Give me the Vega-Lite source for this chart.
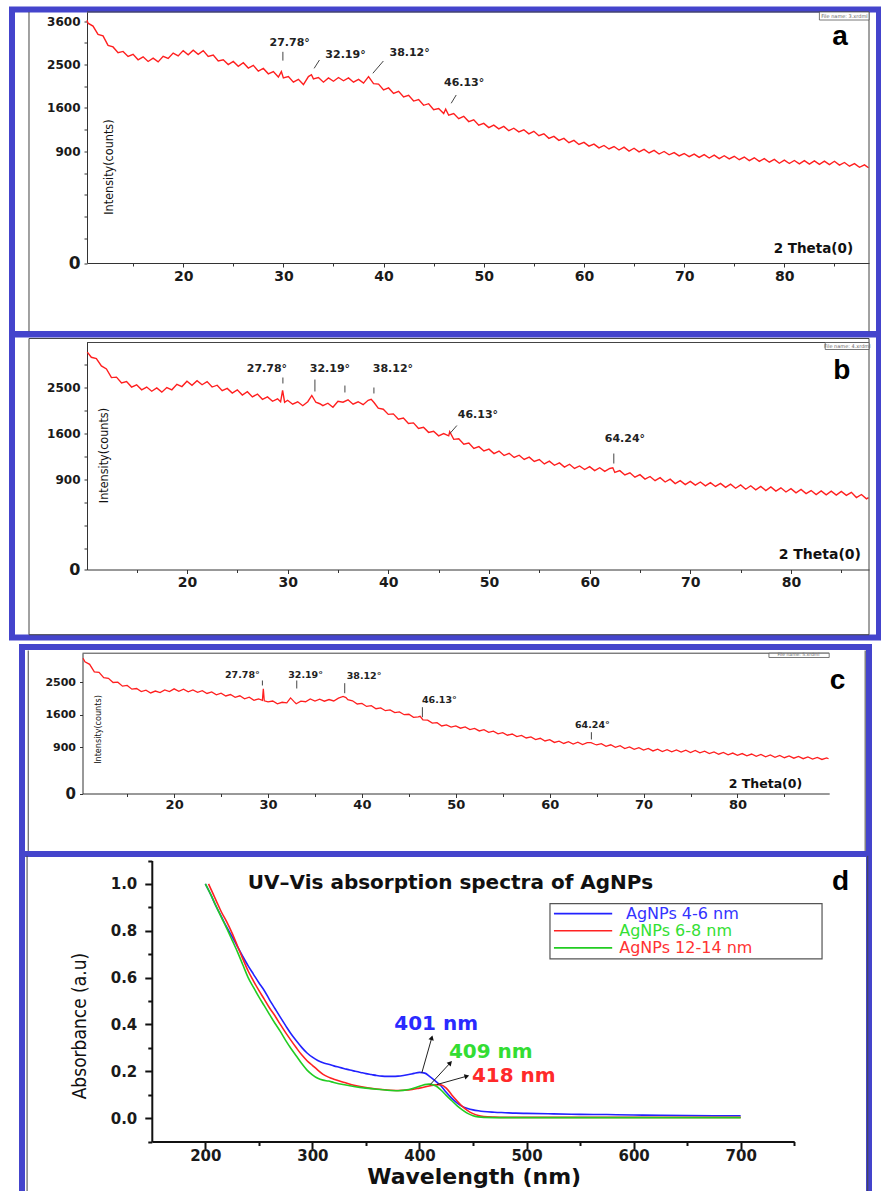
{
"$schema": "https://vega.github.io/schema/vega-lite/v6.json",
"background": "white",
"padding": {"left": 9, "top": 6.5, "right": 0, "bottom": 0},
"config": {
 "view": {"stroke": "#4444cc", "strokeWidth": 6},
 "axis": {"grid": false, "labelFont": "DejaVu Sans", "labelFontWeight": "bold", "labelColor": "#1a1a1a", "domainColor": "#333", "tickColor": "#333", "labelOverlap": false, "labelFlush": false, "labelBound": false, "tickCount": 100}
},
"datasets": {
"xrd_a": [{"theta":10.4,"counts":3620},{"theta":10.5,"counts":3540},{"theta":11,"counts":3460},{"theta":11.5,"counts":3240},{"theta":12,"counts":3200},{"theta":12.5,"counts":2960},{"theta":13,"counts":2920},{"theta":13.5,"counts":2780},{"theta":14,"counts":2810},{"theta":14.5,"counts":2690},{"theta":15,"counts":2740},{"theta":15.5,"counts":2610},{"theta":16,"counts":2680},{"theta":16.5,"counts":2570},{"theta":17,"counts":2650},{"theta":17.5,"counts":2560},{"theta":18,"counts":2690},{"theta":18.5,"counts":2640},{"theta":19,"counts":2770},{"theta":19.5,"counts":2700},{"theta":20,"counts":2830},{"theta":20.5,"counts":2730},{"theta":21,"counts":2840},{"theta":21.5,"counts":2740},{"theta":22,"counts":2830},{"theta":22.5,"counts":2690},{"theta":23,"counts":2720},{"theta":23.5,"counts":2580},{"theta":24,"counts":2610},{"theta":24.5,"counts":2500},{"theta":25,"counts":2570},{"theta":25.5,"counts":2460},{"theta":26,"counts":2540},{"theta":26.5,"counts":2420},{"theta":27,"counts":2480},{"theta":27.5,"counts":2350},{"theta":28,"counts":2410},{"theta":28.5,"counts":2290},{"theta":29,"counts":2340},{"theta":29.5,"counts":2220},{"theta":29.8,"counts":2340},{"theta":30,"counts":2200},{"theta":30.5,"counts":2230},{"theta":31,"counts":2110},{"theta":31.5,"counts":2170},{"theta":32,"counts":2060},{"theta":32.5,"counts":2230},{"theta":32.8,"counts":2270},{"theta":33,"counts":2180},{"theta":33.5,"counts":2210},{"theta":34,"counts":2110},{"theta":34.5,"counts":2200},{"theta":35,"counts":2130},{"theta":35.5,"counts":2210},{"theta":36,"counts":2140},{"theta":36.5,"counts":2200},{"theta":37,"counts":2110},{"theta":37.5,"counts":2170},{"theta":38,"counts":2090},{"theta":38.5,"counts":2230},{"theta":39,"counts":2080},{"theta":39.5,"counts":2070},{"theta":40,"counts":1950},{"theta":40.5,"counts":1990},{"theta":41,"counts":1880},{"theta":41.5,"counts":1920},{"theta":42,"counts":1810},{"theta":42.5,"counts":1840},{"theta":43,"counts":1730},{"theta":43.5,"counts":1760},{"theta":44,"counts":1650},{"theta":44.5,"counts":1680},{"theta":45,"counts":1570},{"theta":45.5,"counts":1590},{"theta":46,"counts":1500},{"theta":46.2,"counts":1580},{"theta":46.5,"counts":1470},{"theta":47,"counts":1500},{"theta":47.5,"counts":1410},{"theta":48,"counts":1450},{"theta":48.5,"counts":1360},{"theta":49,"counts":1390},{"theta":49.5,"counts":1300},{"theta":50,"counts":1330},{"theta":50.5,"counts":1260},{"theta":51,"counts":1300},{"theta":51.5,"counts":1240},{"theta":52,"counts":1280},{"theta":52.5,"counts":1210},{"theta":53,"counts":1250},{"theta":53.5,"counts":1190},{"theta":54,"counts":1225},{"theta":54.5,"counts":1160},{"theta":55,"counts":1200},{"theta":55.5,"counts":1130},{"theta":56,"counts":1160},{"theta":56.5,"counts":1090},{"theta":57,"counts":1120},{"theta":57.5,"counts":1060},{"theta":58,"counts":1090},{"theta":58.5,"counts":1025},{"theta":59,"counts":1060},{"theta":59.5,"counts":1000},{"theta":60,"counts":1030},{"theta":60.5,"counts":975},{"theta":61,"counts":1005},{"theta":61.5,"counts":950},{"theta":62,"counts":985},{"theta":62.5,"counts":935},{"theta":63,"counts":970},{"theta":63.5,"counts":920},{"theta":64,"counts":960},{"theta":64.5,"counts":905},{"theta":65,"counts":945},{"theta":65.5,"counts":895},{"theta":66,"counts":930},{"theta":66.5,"counts":880},{"theta":67,"counts":915},{"theta":67.5,"counts":865},{"theta":68,"counts":900},{"theta":68.5,"counts":855},{"theta":69,"counts":885},{"theta":69.5,"counts":840},{"theta":70,"counts":872},{"theta":70.5,"counts":830},{"theta":71,"counts":865},{"theta":71.5,"counts":820},{"theta":72,"counts":858},{"theta":72.5,"counts":812},{"theta":73,"counts":850},{"theta":73.5,"counts":805},{"theta":74,"counts":842},{"theta":74.5,"counts":800},{"theta":75,"counts":835},{"theta":75.5,"counts":790},{"theta":76,"counts":825},{"theta":76.5,"counts":778},{"theta":77,"counts":815},{"theta":77.5,"counts":768},{"theta":78,"counts":805},{"theta":78.5,"counts":758},{"theta":79,"counts":795},{"theta":79.5,"counts":745},{"theta":80,"counts":785},{"theta":80.5,"counts":742},{"theta":81,"counts":780},{"theta":81.5,"counts":738},{"theta":82,"counts":778},{"theta":82.5,"counts":735},{"theta":83,"counts":775},{"theta":83.5,"counts":732},{"theta":84,"counts":772},{"theta":84.5,"counts":728},{"theta":85,"counts":770},{"theta":85.5,"counts":722},{"theta":86,"counts":755},{"theta":86.5,"counts":708},{"theta":87,"counts":740},{"theta":87.5,"counts":695},{"theta":88,"counts":725},{"theta":88.4,"counts":690}],
"xrd_b": [{"theta":10.1,"counts":3330},{"theta":10.5,"counts":3200},{"theta":11,"counts":3170},{"theta":11.5,"counts":2990},{"theta":12,"counts":2920},{"theta":12.5,"counts":2720},{"theta":13,"counts":2730},{"theta":13.5,"counts":2600},{"theta":14,"counts":2630},{"theta":14.5,"counts":2510},{"theta":15,"counts":2560},{"theta":15.5,"counts":2450},{"theta":16,"counts":2510},{"theta":16.5,"counts":2420},{"theta":17,"counts":2490},{"theta":17.5,"counts":2400},{"theta":18,"counts":2500},{"theta":18.5,"counts":2450},{"theta":19,"counts":2570},{"theta":19.5,"counts":2520},{"theta":20,"counts":2640},{"theta":20.5,"counts":2550},{"theta":21,"counts":2650},{"theta":21.5,"counts":2560},{"theta":22,"counts":2630},{"theta":22.5,"counts":2510},{"theta":23,"counts":2550},{"theta":23.5,"counts":2430},{"theta":24,"counts":2480},{"theta":24.5,"counts":2380},{"theta":25,"counts":2450},{"theta":25.5,"counts":2340},{"theta":26,"counts":2410},{"theta":26.5,"counts":2300},{"theta":27,"counts":2360},{"theta":27.5,"counts":2250},{"theta":28,"counts":2300},{"theta":28.5,"counts":2210},{"theta":29,"counts":2260},{"theta":29.3,"counts":2200},{"theta":29.5,"counts":2440},{"theta":29.7,"counts":2190},{"theta":30,"counts":2230},{"theta":30.5,"counts":2150},{"theta":31,"counts":2200},{"theta":31.5,"counts":2120},{"theta":32,"counts":2200},{"theta":32.4,"counts":2330},{"theta":32.8,"counts":2190},{"theta":33.2,"counts":2160},{"theta":33.5,"counts":2120},{"theta":34,"counts":2170},{"theta":34.5,"counts":2090},{"theta":35,"counts":2210},{"theta":35.5,"counts":2190},{"theta":36,"counts":2240},{"theta":36.5,"counts":2150},{"theta":37,"counts":2200},{"theta":37.5,"counts":2140},{"theta":38,"counts":2230},{"theta":38.3,"counts":2250},{"theta":38.6,"counts":2180},{"theta":39,"counts":2070},{"theta":39.5,"counts":2050},{"theta":40,"counts":1950},{"theta":40.5,"counts":1960},{"theta":41,"counts":1860},{"theta":41.5,"counts":1880},{"theta":42,"counts":1780},{"theta":42.5,"counts":1790},{"theta":43,"counts":1690},{"theta":43.5,"counts":1710},{"theta":44,"counts":1620},{"theta":44.5,"counts":1640},{"theta":45,"counts":1560},{"theta":45.5,"counts":1600},{"theta":46,"counts":1560},{"theta":46.1,"counts":1630},{"theta":46.5,"counts":1500},{"theta":47,"counts":1510},{"theta":47.5,"counts":1420},{"theta":48,"counts":1440},{"theta":48.5,"counts":1350},{"theta":49,"counts":1380},{"theta":49.5,"counts":1310},{"theta":50,"counts":1340},{"theta":50.5,"counts":1270},{"theta":51,"counts":1310},{"theta":51.5,"counts":1240},{"theta":52,"counts":1275},{"theta":52.5,"counts":1210},{"theta":53,"counts":1245},{"theta":53.5,"counts":1180},{"theta":54,"counts":1215},{"theta":54.5,"counts":1150},{"theta":55,"counts":1180},{"theta":55.5,"counts":1115},{"theta":56,"counts":1155},{"theta":56.5,"counts":1095},{"theta":57,"counts":1130},{"theta":57.5,"counts":1070},{"theta":58,"counts":1110},{"theta":58.5,"counts":1050},{"theta":59,"counts":1085},{"theta":59.5,"counts":1035},{"theta":60,"counts":1075},{"theta":60.5,"counts":1020},{"theta":61,"counts":1060},{"theta":61.5,"counts":1010},{"theta":62,"counts":1050},{"theta":62.3,"counts":1060},{"theta":62.5,"counts":995},{"theta":63,"counts":1020},{"theta":63.5,"counts":960},{"theta":64,"counts":990},{"theta":64.5,"counts":930},{"theta":65,"counts":965},{"theta":65.5,"counts":905},{"theta":66,"counts":940},{"theta":66.5,"counts":885},{"theta":67,"counts":925},{"theta":67.5,"counts":868},{"theta":68,"counts":905},{"theta":68.5,"counts":848},{"theta":69,"counts":885},{"theta":69.5,"counts":835},{"theta":70,"counts":875},{"theta":70.5,"counts":828},{"theta":71,"counts":868},{"theta":71.5,"counts":820},{"theta":72,"counts":860},{"theta":72.5,"counts":812},{"theta":73,"counts":850},{"theta":73.5,"counts":800},{"theta":74,"counts":840},{"theta":74.5,"counts":790},{"theta":75,"counts":830},{"theta":75.5,"counts":778},{"theta":76,"counts":820},{"theta":76.5,"counts":770},{"theta":77,"counts":812},{"theta":77.5,"counts":762},{"theta":78,"counts":805},{"theta":78.5,"counts":755},{"theta":79,"counts":795},{"theta":79.5,"counts":745},{"theta":80,"counts":785},{"theta":80.5,"counts":735},{"theta":81,"counts":775},{"theta":81.5,"counts":725},{"theta":82,"counts":762},{"theta":82.5,"counts":715},{"theta":83,"counts":758},{"theta":83.5,"counts":712},{"theta":84,"counts":755},{"theta":84.5,"counts":708},{"theta":85,"counts":752},{"theta":85.5,"counts":705},{"theta":86,"counts":740},{"theta":86.5,"counts":680},{"theta":87,"counts":715},{"theta":87.5,"counts":665},{"theta":87.7,"counts":680}],
"xrd_c": [{"theta":10.3,"counts":3290},{"theta":10.5,"counts":3170},{"theta":11,"counts":3080},{"theta":11.5,"counts":2830},{"theta":12,"counts":2810},{"theta":12.5,"counts":2640},{"theta":13,"counts":2620},{"theta":13.5,"counts":2490},{"theta":14,"counts":2500},{"theta":14.5,"counts":2380},{"theta":15,"counts":2400},{"theta":15.5,"counts":2290},{"theta":16,"counts":2310},{"theta":16.5,"counts":2220},{"theta":17,"counts":2260},{"theta":17.5,"counts":2180},{"theta":18,"counts":2235},{"theta":18.5,"counts":2190},{"theta":19,"counts":2270},{"theta":19.5,"counts":2220},{"theta":20,"counts":2300},{"theta":20.5,"counts":2230},{"theta":21,"counts":2290},{"theta":21.5,"counts":2215},{"theta":22,"counts":2270},{"theta":22.5,"counts":2200},{"theta":23,"counts":2245},{"theta":23.5,"counts":2165},{"theta":24,"counts":2210},{"theta":24.5,"counts":2125},{"theta":25,"counts":2175},{"theta":25.5,"counts":2095},{"theta":26,"counts":2135},{"theta":26.5,"counts":2055},{"theta":27,"counts":2100},{"theta":27.5,"counts":2015},{"theta":28,"counts":2060},{"theta":28.5,"counts":1975},{"theta":29,"counts":2010},{"theta":29.4,"counts":1975},{"theta":29.5,"counts":2300},{"theta":29.6,"counts":1960},{"theta":30,"counts":1930},{"theta":30.5,"counts":1955},{"theta":31,"counts":1880},{"theta":31.5,"counts":1920},{"theta":32,"counts":1905},{"theta":32.4,"counts":2040},{"theta":32.8,"counts":1930},{"theta":33,"counts":1880},{"theta":33.5,"counts":1950},{"theta":34,"counts":1935},{"theta":34.5,"counts":2010},{"theta":35,"counts":1955},{"theta":35.5,"counts":2005},{"theta":36,"counts":1950},{"theta":36.5,"counts":1995},{"theta":37,"counts":1955},{"theta":37.5,"counts":2035},{"theta":38,"counts":2080},{"theta":38.3,"counts":2050},{"theta":38.5,"counts":1990},{"theta":39,"counts":1960},{"theta":39.5,"counts":1875},{"theta":40,"counts":1890},{"theta":40.5,"counts":1810},{"theta":41,"counts":1830},{"theta":41.5,"counts":1750},{"theta":42,"counts":1770},{"theta":42.5,"counts":1700},{"theta":43,"counts":1720},{"theta":43.5,"counts":1650},{"theta":44,"counts":1670},{"theta":44.5,"counts":1600},{"theta":45,"counts":1610},{"theta":45.5,"counts":1535},{"theta":46,"counts":1545},{"theta":46.2,"counts":1560},{"theta":46.5,"counts":1475},{"theta":47,"counts":1470},{"theta":47.5,"counts":1400},{"theta":48,"counts":1410},{"theta":48.5,"counts":1335},{"theta":49,"counts":1360},{"theta":49.5,"counts":1310},{"theta":50,"counts":1335},{"theta":50.5,"counts":1285},{"theta":51,"counts":1312},{"theta":51.5,"counts":1255},{"theta":52,"counts":1282},{"theta":52.5,"counts":1225},{"theta":53,"counts":1252},{"theta":53.5,"counts":1195},{"theta":54,"counts":1220},{"theta":54.5,"counts":1165},{"theta":55,"counts":1190},{"theta":55.5,"counts":1135},{"theta":56,"counts":1160},{"theta":56.5,"counts":1105},{"theta":57,"counts":1130},{"theta":57.5,"counts":1078},{"theta":58,"counts":1100},{"theta":58.5,"counts":1045},{"theta":59,"counts":1072},{"theta":59.5,"counts":1018},{"theta":60,"counts":1045},{"theta":60.5,"counts":990},{"theta":61,"counts":1015},{"theta":61.5,"counts":970},{"theta":62,"counts":1005},{"theta":62.5,"counts":960},{"theta":63,"counts":995},{"theta":63.5,"counts":950},{"theta":64,"counts":985},{"theta":64.4,"counts":985},{"theta":64.8,"counts":955},{"theta":65,"counts":945},{"theta":65.5,"counts":965},{"theta":66,"counts":915},{"theta":66.5,"counts":945},{"theta":67,"counts":898},{"theta":67.5,"counts":928},{"theta":68,"counts":875},{"theta":68.5,"counts":905},{"theta":69,"counts":860},{"theta":69.5,"counts":892},{"theta":70,"counts":846},{"theta":70.5,"counts":878},{"theta":71,"counts":832},{"theta":71.5,"counts":864},{"theta":72,"counts":822},{"theta":72.5,"counts":855},{"theta":73,"counts":816},{"theta":73.5,"counts":850},{"theta":74,"counts":812},{"theta":74.5,"counts":845},{"theta":75,"counts":805},{"theta":75.5,"counts":840},{"theta":76,"counts":798},{"theta":76.5,"counts":828},{"theta":77,"counts":786},{"theta":77.5,"counts":816},{"theta":78,"counts":775},{"theta":78.5,"counts":805},{"theta":79,"counts":764},{"theta":79.5,"counts":795},{"theta":80,"counts":755},{"theta":80.5,"counts":786},{"theta":81,"counts":747},{"theta":81.5,"counts":778},{"theta":82,"counts":739},{"theta":82.5,"counts":770},{"theta":83,"counts":732},{"theta":83.5,"counts":762},{"theta":84,"counts":724},{"theta":84.5,"counts":754},{"theta":85,"counts":716},{"theta":85.5,"counts":745},{"theta":86,"counts":708},{"theta":86.5,"counts":738},{"theta":87,"counts":700},{"theta":87.5,"counts":730},{"theta":88,"counts":694},{"theta":88.5,"counts":722},{"theta":89,"counts":688},{"theta":89.5,"counts":714},{"theta":89.7,"counts":699}],
"uv": [
{"sample":"AgNPs 4-6 nm","wavelength":200,"absorbance":1.0},{"sample":"AgNPs 4-6 nm","wavelength":205,"absorbance":0.955},{"sample":"AgNPs 4-6 nm","wavelength":210,"absorbance":0.905},{"sample":"AgNPs 4-6 nm","wavelength":215,"absorbance":0.86},{"sample":"AgNPs 4-6 nm","wavelength":220,"absorbance":0.815},{"sample":"AgNPs 4-6 nm","wavelength":225,"absorbance":0.775},{"sample":"AgNPs 4-6 nm","wavelength":230,"absorbance":0.732},{"sample":"AgNPs 4-6 nm","wavelength":235,"absorbance":0.69},{"sample":"AgNPs 4-6 nm","wavelength":240,"absorbance":0.65},{"sample":"AgNPs 4-6 nm","wavelength":245,"absorbance":0.614},{"sample":"AgNPs 4-6 nm","wavelength":250,"absorbance":0.578},{"sample":"AgNPs 4-6 nm","wavelength":255,"absorbance":0.545},{"sample":"AgNPs 4-6 nm","wavelength":260,"absorbance":0.505},{"sample":"AgNPs 4-6 nm","wavelength":265,"absorbance":0.468},{"sample":"AgNPs 4-6 nm","wavelength":270,"absorbance":0.431},{"sample":"AgNPs 4-6 nm","wavelength":275,"absorbance":0.395},{"sample":"AgNPs 4-6 nm","wavelength":280,"absorbance":0.36},{"sample":"AgNPs 4-6 nm","wavelength":285,"absorbance":0.33},{"sample":"AgNPs 4-6 nm","wavelength":290,"absorbance":0.302},{"sample":"AgNPs 4-6 nm","wavelength":295,"absorbance":0.278},{"sample":"AgNPs 4-6 nm","wavelength":300,"absorbance":0.26},{"sample":"AgNPs 4-6 nm","wavelength":305,"absorbance":0.246},{"sample":"AgNPs 4-6 nm","wavelength":310,"absorbance":0.236},{"sample":"AgNPs 4-6 nm","wavelength":315,"absorbance":0.23},{"sample":"AgNPs 4-6 nm","wavelength":320,"absorbance":0.223},{"sample":"AgNPs 4-6 nm","wavelength":325,"absorbance":0.217},{"sample":"AgNPs 4-6 nm","wavelength":330,"absorbance":0.211},{"sample":"AgNPs 4-6 nm","wavelength":335,"absorbance":0.205},{"sample":"AgNPs 4-6 nm","wavelength":340,"absorbance":0.2},{"sample":"AgNPs 4-6 nm","wavelength":345,"absorbance":0.195},{"sample":"AgNPs 4-6 nm","wavelength":350,"absorbance":0.19},{"sample":"AgNPs 4-6 nm","wavelength":355,"absorbance":0.186},{"sample":"AgNPs 4-6 nm","wavelength":360,"absorbance":0.182},{"sample":"AgNPs 4-6 nm","wavelength":365,"absorbance":0.179},{"sample":"AgNPs 4-6 nm","wavelength":370,"absorbance":0.178},{"sample":"AgNPs 4-6 nm","wavelength":375,"absorbance":0.178},{"sample":"AgNPs 4-6 nm","wavelength":380,"absorbance":0.179},{"sample":"AgNPs 4-6 nm","wavelength":385,"absorbance":0.182},{"sample":"AgNPs 4-6 nm","wavelength":390,"absorbance":0.186},{"sample":"AgNPs 4-6 nm","wavelength":395,"absorbance":0.191},{"sample":"AgNPs 4-6 nm","wavelength":400,"absorbance":0.195},{"sample":"AgNPs 4-6 nm","wavelength":405,"absorbance":0.192},{"sample":"AgNPs 4-6 nm","wavelength":410,"absorbance":0.176},{"sample":"AgNPs 4-6 nm","wavelength":415,"absorbance":0.158},{"sample":"AgNPs 4-6 nm","wavelength":420,"absorbance":0.138},{"sample":"AgNPs 4-6 nm","wavelength":425,"absorbance":0.11},{"sample":"AgNPs 4-6 nm","wavelength":430,"absorbance":0.085},{"sample":"AgNPs 4-6 nm","wavelength":435,"absorbance":0.065},{"sample":"AgNPs 4-6 nm","wavelength":440,"absorbance":0.05},{"sample":"AgNPs 4-6 nm","wavelength":445,"absorbance":0.041},{"sample":"AgNPs 4-6 nm","wavelength":450,"absorbance":0.035},{"sample":"AgNPs 4-6 nm","wavelength":455,"absorbance":0.031},{"sample":"AgNPs 4-6 nm","wavelength":460,"absorbance":0.028},{"sample":"AgNPs 4-6 nm","wavelength":470,"absorbance":0.025},{"sample":"AgNPs 4-6 nm","wavelength":480,"absorbance":0.023},{"sample":"AgNPs 4-6 nm","wavelength":490,"absorbance":0.021},{"sample":"AgNPs 4-6 nm","wavelength":500,"absorbance":0.02},{"sample":"AgNPs 4-6 nm","wavelength":525,"absorbance":0.018},{"sample":"AgNPs 4-6 nm","wavelength":550,"absorbance":0.016},{"sample":"AgNPs 4-6 nm","wavelength":575,"absorbance":0.015},{"sample":"AgNPs 4-6 nm","wavelength":600,"absorbance":0.013},{"sample":"AgNPs 4-6 nm","wavelength":625,"absorbance":0.012},{"sample":"AgNPs 4-6 nm","wavelength":650,"absorbance":0.011},{"sample":"AgNPs 4-6 nm","wavelength":675,"absorbance":0.01},{"sample":"AgNPs 4-6 nm","wavelength":700,"absorbance":0.01},
{"sample":"AgNPs 6-8 nm","wavelength":203,"absorbance":1.0},{"sample":"AgNPs 6-8 nm","wavelength":205,"absorbance":0.98},{"sample":"AgNPs 6-8 nm","wavelength":210,"absorbance":0.93},{"sample":"AgNPs 6-8 nm","wavelength":215,"absorbance":0.88},{"sample":"AgNPs 6-8 nm","wavelength":220,"absorbance":0.838},{"sample":"AgNPs 6-8 nm","wavelength":225,"absorbance":0.79},{"sample":"AgNPs 6-8 nm","wavelength":230,"absorbance":0.735},{"sample":"AgNPs 6-8 nm","wavelength":235,"absorbance":0.68},{"sample":"AgNPs 6-8 nm","wavelength":240,"absorbance":0.628},{"sample":"AgNPs 6-8 nm","wavelength":245,"absorbance":0.585},{"sample":"AgNPs 6-8 nm","wavelength":250,"absorbance":0.545},{"sample":"AgNPs 6-8 nm","wavelength":255,"absorbance":0.508},{"sample":"AgNPs 6-8 nm","wavelength":260,"absorbance":0.47},{"sample":"AgNPs 6-8 nm","wavelength":265,"absorbance":0.437},{"sample":"AgNPs 6-8 nm","wavelength":270,"absorbance":0.4},{"sample":"AgNPs 6-8 nm","wavelength":275,"absorbance":0.365},{"sample":"AgNPs 6-8 nm","wavelength":280,"absorbance":0.332},{"sample":"AgNPs 6-8 nm","wavelength":285,"absorbance":0.3},{"sample":"AgNPs 6-8 nm","wavelength":290,"absorbance":0.27},{"sample":"AgNPs 6-8 nm","wavelength":295,"absorbance":0.245},{"sample":"AgNPs 6-8 nm","wavelength":300,"absorbance":0.225},{"sample":"AgNPs 6-8 nm","wavelength":305,"absorbance":0.205},{"sample":"AgNPs 6-8 nm","wavelength":310,"absorbance":0.187},{"sample":"AgNPs 6-8 nm","wavelength":315,"absorbance":0.175},{"sample":"AgNPs 6-8 nm","wavelength":320,"absorbance":0.166},{"sample":"AgNPs 6-8 nm","wavelength":330,"absorbance":0.152},{"sample":"AgNPs 6-8 nm","wavelength":340,"absorbance":0.139},{"sample":"AgNPs 6-8 nm","wavelength":350,"absorbance":0.13},{"sample":"AgNPs 6-8 nm","wavelength":360,"absorbance":0.124},{"sample":"AgNPs 6-8 nm","wavelength":370,"absorbance":0.12},{"sample":"AgNPs 6-8 nm","wavelength":380,"absorbance":0.118},{"sample":"AgNPs 6-8 nm","wavelength":390,"absorbance":0.12},{"sample":"AgNPs 6-8 nm","wavelength":400,"absorbance":0.128},{"sample":"AgNPs 6-8 nm","wavelength":410,"absorbance":0.138},{"sample":"AgNPs 6-8 nm","wavelength":415,"absorbance":0.142},{"sample":"AgNPs 6-8 nm","wavelength":418,"absorbance":0.143},{"sample":"AgNPs 6-8 nm","wavelength":420,"absorbance":0.142},{"sample":"AgNPs 6-8 nm","wavelength":425,"absorbance":0.128},{"sample":"AgNPs 6-8 nm","wavelength":430,"absorbance":0.1},{"sample":"AgNPs 6-8 nm","wavelength":435,"absorbance":0.074},{"sample":"AgNPs 6-8 nm","wavelength":440,"absorbance":0.05},{"sample":"AgNPs 6-8 nm","wavelength":445,"absorbance":0.032},{"sample":"AgNPs 6-8 nm","wavelength":450,"absorbance":0.019},{"sample":"AgNPs 6-8 nm","wavelength":455,"absorbance":0.011},{"sample":"AgNPs 6-8 nm","wavelength":460,"absorbance":0.007},{"sample":"AgNPs 6-8 nm","wavelength":470,"absorbance":0.004},{"sample":"AgNPs 6-8 nm","wavelength":480,"absorbance":0.003},{"sample":"AgNPs 6-8 nm","wavelength":500,"absorbance":0.003},{"sample":"AgNPs 6-8 nm","wavelength":550,"absorbance":0.003},{"sample":"AgNPs 6-8 nm","wavelength":600,"absorbance":0.003},{"sample":"AgNPs 6-8 nm","wavelength":650,"absorbance":0.003},{"sample":"AgNPs 6-8 nm","wavelength":700,"absorbance":0.003},
{"sample":"AgNPs 12-14 nm","wavelength":200,"absorbance":1.0},{"sample":"AgNPs 12-14 nm","wavelength":205,"absorbance":0.955},{"sample":"AgNPs 12-14 nm","wavelength":210,"absorbance":0.905},{"sample":"AgNPs 12-14 nm","wavelength":215,"absorbance":0.857},{"sample":"AgNPs 12-14 nm","wavelength":220,"absorbance":0.81},{"sample":"AgNPs 12-14 nm","wavelength":225,"absorbance":0.76},{"sample":"AgNPs 12-14 nm","wavelength":230,"absorbance":0.71},{"sample":"AgNPs 12-14 nm","wavelength":235,"absorbance":0.655},{"sample":"AgNPs 12-14 nm","wavelength":240,"absorbance":0.6},{"sample":"AgNPs 12-14 nm","wavelength":245,"absorbance":0.558},{"sample":"AgNPs 12-14 nm","wavelength":250,"absorbance":0.518},{"sample":"AgNPs 12-14 nm","wavelength":255,"absorbance":0.48},{"sample":"AgNPs 12-14 nm","wavelength":260,"absorbance":0.442},{"sample":"AgNPs 12-14 nm","wavelength":265,"absorbance":0.405},{"sample":"AgNPs 12-14 nm","wavelength":270,"absorbance":0.37},{"sample":"AgNPs 12-14 nm","wavelength":275,"absorbance":0.332},{"sample":"AgNPs 12-14 nm","wavelength":280,"absorbance":0.297},{"sample":"AgNPs 12-14 nm","wavelength":285,"absorbance":0.265},{"sample":"AgNPs 12-14 nm","wavelength":290,"absorbance":0.233},{"sample":"AgNPs 12-14 nm","wavelength":295,"absorbance":0.205},{"sample":"AgNPs 12-14 nm","wavelength":300,"absorbance":0.185},{"sample":"AgNPs 12-14 nm","wavelength":305,"absorbance":0.17},{"sample":"AgNPs 12-14 nm","wavelength":310,"absorbance":0.162},{"sample":"AgNPs 12-14 nm","wavelength":315,"absorbance":0.158},{"sample":"AgNPs 12-14 nm","wavelength":320,"absorbance":0.152},{"sample":"AgNPs 12-14 nm","wavelength":330,"absorbance":0.142},{"sample":"AgNPs 12-14 nm","wavelength":340,"absorbance":0.134},{"sample":"AgNPs 12-14 nm","wavelength":350,"absorbance":0.128},{"sample":"AgNPs 12-14 nm","wavelength":360,"absorbance":0.123},{"sample":"AgNPs 12-14 nm","wavelength":370,"absorbance":0.119},{"sample":"AgNPs 12-14 nm","wavelength":380,"absorbance":0.117},{"sample":"AgNPs 12-14 nm","wavelength":390,"absorbance":0.122},{"sample":"AgNPs 12-14 nm","wavelength":400,"absorbance":0.136},{"sample":"AgNPs 12-14 nm","wavelength":405,"absorbance":0.143},{"sample":"AgNPs 12-14 nm","wavelength":409,"absorbance":0.145},{"sample":"AgNPs 12-14 nm","wavelength":415,"absorbance":0.138},{"sample":"AgNPs 12-14 nm","wavelength":420,"absorbance":0.12},{"sample":"AgNPs 12-14 nm","wavelength":425,"absorbance":0.097},{"sample":"AgNPs 12-14 nm","wavelength":430,"absorbance":0.075},{"sample":"AgNPs 12-14 nm","wavelength":435,"absorbance":0.053},{"sample":"AgNPs 12-14 nm","wavelength":440,"absorbance":0.035},{"sample":"AgNPs 12-14 nm","wavelength":445,"absorbance":0.02},{"sample":"AgNPs 12-14 nm","wavelength":450,"absorbance":0.01},{"sample":"AgNPs 12-14 nm","wavelength":455,"absorbance":0.005},{"sample":"AgNPs 12-14 nm","wavelength":460,"absorbance":0.003},{"sample":"AgNPs 12-14 nm","wavelength":480,"absorbance":0.002},{"sample":"AgNPs 12-14 nm","wavelength":500,"absorbance":0.002},{"sample":"AgNPs 12-14 nm","wavelength":550,"absorbance":0.002},{"sample":"AgNPs 12-14 nm","wavelength":600,"absorbance":0.002},{"sample":"AgNPs 12-14 nm","wavelength":650,"absorbance":0.002},{"sample":"AgNPs 12-14 nm","wavelength":700,"absorbance":0.002}
]
},
"vconcat": [
{"vconcat": [
 {"width": 867, "height": 324.5,
  "layer": [
   {"data": {"name": "xrd_a"}, "mark": {"type": "line", "color": "#ff1f1f", "strokeWidth": 1.4},
    "encoding": {
     "x": {"field": "theta", "type": "quantitative", "scale": {"domain": [10.4, 88.45], "range": [75, 857], "nice": false, "zero": false},
      "axis": {"title": null, "orient": "bottom", "offset": -71, "tickCount": 100, "values": [15,20,25,30,35,40,45,50,55,60,65,70,75,80,85], "labelExpr": "datum.value % 10 === 0 ? datum.label : ''", "labelOverlap": false, "tickSize": {"condition": {"test": "datum.value % 10 === 0", "value": 4}, "value": 3}, "labelFontSize": 14, "labelPadding": 2}},
     "y": {"field": "counts", "type": "quantitative", "scale": {"type": "sqrt", "domain": [19, 3853], "range": [253.5, 2.5], "nice": false, "zero": false},
      "axis": {"title": null, "orient": "left", "offset": -75, "tickCount": 100, "values": [19,100,225,400,625,900,1225,1600,2025,2500,3025,3600], "format": "d", "labelOverlap": false, "labelExpr": "datum.value < 50 ? '0' : (datum.value >= 900 && round(sqrt(datum.value)) % 10 === 0 ? datum.label : '')", "tickSize": 3, "labelFontSize": {"condition": {"test": "datum.value < 50", "value": 17}, "value": 12}, "labelPadding": 4}}
    }},
   {"data": {"values": [{"theta":10.4,"theta2":88.45,"counts":3853,"counts2":3853},{"theta":88.45,"theta2":88.45,"counts":-140,"counts2":3853},{"theta":4.61,"theta2":4.61,"counts":-140,"counts2":3853},{"theta":29.95,"theta2":29.95,"counts":2590,"counts2":2800},{"theta":33.07,"theta2":33.6,"counts":2412,"counts2":2604},{"theta":38.93,"theta2":39.98,"counts":2302,"counts2":2581},{"theta":46.75,"theta2":47.25,"counts":1688,"counts2":1848}]},
    "mark": {"type": "rule", "color": "#444", "strokeWidth": 1},
    "encoding": {"x": {"field": "theta", "type": "quantitative"}, "x2": {"field": "theta2"}, "y": {"field": "counts", "type": "quantitative"}, "y2": {"field": "counts2"}}},
   {"data": {"values": [{"theta":83.5,"theta2":88.45,"counts":3853,"counts2":3628}]},
    "mark": {"type": "rect", "fill": "white", "stroke": "#555", "strokeWidth": 0.8},
    "encoding": {"x": {"field": "theta", "type": "quantitative"}, "x2": {"field": "theta2"}, "y": {"field": "counts", "type": "quantitative"}, "y2": {"field": "counts2"}}},
   {"data": {"values": [{"theta":86,"counts":3740,"label":"File name: 3.xrdml"}]},
    "mark": {"type": "text", "fontSize": 5, "color": "#666", "font": "DejaVu Sans"},
    "encoding": {"x": {"field": "theta", "type": "quantitative"}, "y": {"field": "counts", "type": "quantitative"}, "text": {"field": "label"}}},
   {"data": {"values": [{"label":"27.78°","theta":30.63,"counts":3018},{"label":"32.19°","theta":36.2,"counts":2723},{"label":"38.12°","theta":42.6,"counts":2779},{"label":"46.13°","theta":48.04,"counts":2086}]},
    "mark": {"type": "text", "font": "DejaVu Sans", "fontWeight": "bold", "fontSize": 11, "color": "#222"},
    "encoding": {"x": {"field": "theta", "type": "quantitative"}, "y": {"field": "counts", "type": "quantitative"}, "text": {"field": "label"}}},
   {"data": {"values": [{"theta":12.6,"counts":698,"label":"Intensity(counts)"}]},
    "mark": {"type": "text", "angle": 270, "font": "Liberation Sans Narrow, DejaVu Sans Condensed, sans-serif", "fontSize": 12.5, "color": "#111"},
    "encoding": {"x": {"field": "theta", "type": "quantitative"}, "y": {"field": "counts", "type": "quantitative"}, "text": {"field": "label"}}},
   {"data": {"values": [{"theta":86.86,"counts":57.6,"label":"2 Theta(0)"}]},
    "mark": {"type": "text", "align": "right", "font": "DejaVu Sans", "fontWeight": "bold", "fontSize": 13.5, "color": "#111"},
    "encoding": {"x": {"field": "theta", "type": "quantitative"}, "y": {"field": "counts", "type": "quantitative"}, "text": {"field": "label"}}},
   {"data": {"values": [{"theta":85.56,"counts":3172,"label":"a"}]},
    "mark": {"type": "text", "font": "Liberation Sans", "fontWeight": "bold", "fontSize": 28, "color": "#000"},
    "encoding": {"x": {"field": "theta", "type": "quantitative"}, "y": {"field": "counts", "type": "quantitative"}, "text": {"field": "label"}}}
  ]},
 {"width": 867, "height": 303,
  "layer": [
   {"data": {"name": "xrd_b"}, "mark": {"type": "line", "color": "#ff1f1f", "strokeWidth": 1.4},
    "encoding": {
     "x": {"field": "theta", "type": "quantitative", "scale": {"domain": [10.07, 87.75], "range": [75, 857], "nice": false, "zero": false},
      "axis": {"title": null, "orient": "bottom", "offset": -68, "tickCount": 100, "values": [15,20,25,30,35,40,45,50,55,60,65,70,75,80,85], "labelExpr": "datum.value % 10 === 0 ? datum.label : ''", "labelOverlap": false, "tickSize": {"condition": {"test": "datum.value % 10 === 0", "value": 4}, "value": 3}, "labelFontSize": 14, "labelPadding": 2}},
     "y": {"field": "counts", "type": "quantitative", "scale": {"type": "sqrt", "domain": [109, 3574], "range": [235, 8], "nice": false, "zero": false},
      "axis": {"title": null, "orient": "left", "offset": -75, "tickCount": 100, "values": [109,225,400,625,900,1225,1600,2025,2500,3025], "format": "d", "labelOverlap": false, "labelExpr": "datum.value < 150 ? '0' : (datum.value >= 900 && round(sqrt(datum.value)) % 10 === 0 ? datum.label : '')", "tickSize": 3, "labelFontSize": {"condition": {"test": "datum.value < 150", "value": 16}, "value": 12}, "labelPadding": 4}}
    }},
   {"data": {"values": [{"theta":10.07,"theta2":87.75,"counts":3574,"counts2":3574},{"theta":4.31,"theta2":87.75,"counts":3679,"counts2":3679},{"theta":4.31,"theta2":87.75,"counts":-14,"counts2":-14},{"theta":4.31,"theta2":4.31,"counts":-14,"counts2":3679},{"theta":87.75,"theta2":87.75,"counts":-14,"counts2":3679},{"theta":29.53,"theta2":29.53,"counts":2588,"counts2":2722},{"theta":32.71,"theta2":32.71,"counts":2414,"counts2":2676},{"theta":35.69,"theta2":35.69,"counts":2393,"counts2":2543},{"theta":38.57,"theta2":38.57,"counts":2372,"counts2":2500},{"theta":46.12,"theta2":46.81,"counts":1600,"counts2":1742},{"theta":62.4,"theta2":62.4,"counts":1121,"counts2":1271}]},
    "mark": {"type": "rule", "color": "#444", "strokeWidth": 1},
    "encoding": {"x": {"field": "theta", "type": "quantitative"}, "x2": {"field": "theta2"}, "y": {"field": "counts", "type": "quantitative"}, "y2": {"field": "counts2"}}},
   {"data": {"values": [{"theta":83.4,"theta2":87.75,"counts":3574,"counts2":3394}]},
    "mark": {"type": "rect", "fill": "white", "stroke": "#555", "strokeWidth": 0.8},
    "encoding": {"x": {"field": "theta", "type": "quantitative"}, "x2": {"field": "theta2"}, "y": {"field": "counts", "type": "quantitative"}, "y2": {"field": "counts2"}}},
   {"data": {"values": [{"theta":85.6,"counts":3480,"label":"File name: 4.xrdml"}]},
    "mark": {"type": "text", "fontSize": 5, "color": "#666", "font": "DejaVu Sans"},
    "encoding": {"x": {"field": "theta", "type": "quantitative"}, "y": {"field": "counts", "type": "quantitative"}, "text": {"field": "label"}}},
   {"data": {"values": [{"label":"27.78°","theta":27.94,"counts":2930},{"label":"32.19°","theta":34.2,"counts":2930},{"label":"38.12°","theta":40.46,"counts":2907},{"label":"46.13°","theta":48.9,"counts":1947},{"label":"64.24°","theta":63.5,"counts":1514}]},
    "mark": {"type": "text", "font": "DejaVu Sans", "fontWeight": "bold", "fontSize": 11, "color": "#222"},
    "encoding": {"x": {"field": "theta", "type": "quantitative"}, "y": {"field": "counts", "type": "quantitative"}, "text": {"field": "label"}}},
   {"data": {"values": [{"theta":11.76,"counts":1240,"label":"Intensity(counts)"}]},
    "mark": {"type": "text", "angle": 270, "font": "Liberation Sans Narrow, DejaVu Sans Condensed, sans-serif", "fontSize": 12.5, "color": "#111"},
    "encoding": {"x": {"field": "theta", "type": "quantitative"}, "y": {"field": "counts", "type": "quantitative"}, "text": {"field": "label"}}},
   {"data": {"values": [{"theta":86.95,"counts":182,"label":"2 Theta(0)"}]},
    "mark": {"type": "text", "align": "right", "font": "DejaVu Sans", "fontWeight": "bold", "fontSize": 14, "color": "#111"},
    "encoding": {"x": {"field": "theta", "type": "quantitative"}, "y": {"field": "counts", "type": "quantitative"}, "text": {"field": "label"}}},
   {"data": {"values": [{"theta":85.06,"counts":2883,"label":"b"}]},
    "mark": {"type": "text", "font": "Liberation Sans", "fontWeight": "bold", "fontSize": 28, "color": "#000"},
    "encoding": {"x": {"field": "theta", "type": "quantitative"}, "y": {"field": "counts", "type": "quantitative"}, "text": {"field": "label"}}}
  ]}
 ], "spacing": 0, "bounds": "flush"},
{"hconcat": [
 {"width": 7, "height": 20, "data": {"values": [{"v": 0}]}, "mark": {"type": "point", "opacity": 0}, "view": {"stroke": null}},
 {"vconcat": [
  {"width": 847, "height": 207,
   "layer": [
    {"data": {"name": "xrd_c"}, "mark": {"type": "line", "color": "#ff1f1f", "strokeWidth": 1.3},
     "encoding": {
      "x": {"field": "theta", "type": "quantitative", "scale": {"domain": [10.24, 89.77], "range": [60.5, 807.2], "nice": false, "zero": false},
       "axis": {"title": null, "orient": "bottom", "offset": -60.5, "tickCount": 100, "values": [15,20,25,30,35,40,45,50,55,60,65,70,75,80,85], "labelExpr": "datum.value % 10 === 0 ? datum.label : ''", "labelOverlap": false, "tickSize": {"condition": {"test": "datum.value % 10 === 0", "value": 4}, "value": 3}, "labelFontSize": 13, "labelPadding": 1}},
      "y": {"field": "counts", "type": "quantitative", "scale": {"type": "sqrt", "domain": [248, 3472], "range": [146.5, 6.2], "nice": false, "zero": false},
       "axis": {"title": null, "orient": "left", "offset": -60.5, "tickCount": 100, "values": [248,900,1600,2500], "format": "d", "labelOverlap": false, "labelExpr": "datum.value < 300 ? '0' : datum.label", "tickSize": 3, "labelFontSize": {"condition": {"test": "datum.value < 300", "value": 15}, "value": 11}, "labelPadding": 4}}
     }},
    {"data": {"values": [{"theta":10.24,"theta2":89.77,"counts":3472,"counts2":3472},{"theta":4.46,"theta2":4.46,"counts":-6,"counts2":3570},{"theta":93.6,"theta2":93.6,"counts":-6,"counts2":3570},{"theta":29.4,"theta2":29.4,"counts":2400,"counts2":2553},{"theta":33.06,"theta2":33.06,"counts":2310,"counts2":2553},{"theta":38.17,"theta2":38.17,"counts":2172,"counts2":2470},{"theta":46.44,"theta2":46.44,"counts":1539,"counts2":1790},{"theta":64.44,"theta2":64.44,"counts":1048,"counts2":1198}]},
     "mark": {"type": "rule", "color": "#444", "strokeWidth": 1},
     "encoding": {"x": {"field": "theta", "type": "quantitative"}, "x2": {"field": "theta2"}, "y": {"field": "counts", "type": "quantitative"}, "y2": {"field": "counts2"}}},
    {"data": {"values": [{"theta":83.35,"theta2":89.77,"counts":3472,"counts2":3318}]},
     "mark": {"type": "rect", "fill": "white", "stroke": "#555", "strokeWidth": 0.8},
     "encoding": {"x": {"field": "theta", "type": "quantitative"}, "x2": {"field": "theta2"}, "y": {"field": "counts", "type": "quantitative"}, "y2": {"field": "counts2"}}},
    {"data": {"values": [{"theta":86.5,"counts":3395,"label":"File name: 5.xrdml"}]},
     "mark": {"type": "text", "fontSize": 4.5, "color": "#666", "font": "DejaVu Sans"},
     "encoding": {"x": {"field": "theta", "type": "quantitative"}, "y": {"field": "counts", "type": "quantitative"}, "text": {"field": "label"}}},
    {"data": {"values": [{"label":"27.78°","theta":27.27,"counts":2733},{"label":"32.19°","theta":34.0,"counts":2733},{"label":"38.12°","theta":40.23,"counts":2710},{"label":"46.13°","theta":48.25,"counts":1988},{"label":"64.24°","theta":64.55,"counts":1361}]},
     "mark": {"type": "text", "font": "DejaVu Sans", "fontWeight": "bold", "fontSize": 9.5, "color": "#222"},
     "encoding": {"x": {"field": "theta", "type": "quantitative"}, "y": {"field": "counts", "type": "quantitative"}, "text": {"field": "label"}}},
    {"data": {"values": [{"theta":11.94,"counts":1256,"label":"Intensity(counts)"}]},
     "mark": {"type": "text", "angle": 270, "font": "Liberation Sans Narrow, DejaVu Sans Condensed, sans-serif", "fontSize": 9, "color": "#111"},
     "encoding": {"x": {"field": "theta", "type": "quantitative"}, "y": {"field": "counts", "type": "quantitative"}, "text": {"field": "label"}}},
    {"data": {"values": [{"theta":86.9,"counts":343,"label":"2 Theta(0)"}]},
     "mark": {"type": "text", "align": "right", "font": "DejaVu Sans", "fontWeight": "bold", "fontSize": 12.5, "color": "#111"},
     "encoding": {"x": {"field": "theta", "type": "quantitative"}, "y": {"field": "counts", "type": "quantitative"}, "text": {"field": "label"}}},
    {"data": {"values": [{"theta":90.65,"counts":2552,"label":"c"}]},
     "mark": {"type": "text", "font": "Liberation Sans", "fontWeight": "bold", "fontSize": 28, "color": "#000"},
     "encoding": {"x": {"field": "theta", "type": "quantitative"}, "y": {"field": "counts", "type": "quantitative"}, "text": {"field": "label"}}}
   ]},
  {"width": 847, "height": 345,
   "layer": [
    {"data": {"name": "uv"}, "mark": {"type": "line", "strokeWidth": 1.6, "interpolate": "monotone"},
     "encoding": {
      "x": {"field": "wavelength", "type": "quantitative", "scale": {"domain": [150, 750], "range": [129.8, 772.2], "nice": false, "zero": false},
       "axis": {"title": null, "orient": "bottom", "offset": -57.5, "tickCount": 100, "values": [200,250,300,350,400,450,500,550,600,650,700,750], "labelExpr": "datum.value % 100 === 0 && datum.value <= 700 ? datum.label : ''", "labelOverlap": false, "tickSize": {"condition": {"test": "datum.value % 100 === 0", "value": 7}, "value": 4}, "domainWidth": 2, "tickWidth": 2, "domainColor": "#111", "tickColor": "#111", "labelFontSize": 15, "labelPadding": 0}},
      "y": {"field": "absorbance", "type": "quantitative", "scale": {"domain": [-0.1, 1.1], "range": [287.5, 6.5], "nice": false, "zero": false},
       "axis": {"title": null, "orient": "left", "offset": -129.8, "tickCount": 100, "values": [-0.1,0,0.1,0.2,0.3,0.4,0.5,0.6,0.7,0.8,0.9,1,1.1], "labelOverlap": false, "labelExpr": "datum.value > -0.05 && datum.value < 1.05 && round(datum.value * 10) % 2 === 0 ? format(datum.value, '.1f') : ''", "tickSize": {"condition": {"test": "round(datum.value * 10) % 2 === 0", "value": 7}, "value": 4}, "domainWidth": 2, "tickWidth": 2, "domainColor": "#111", "tickColor": "#111", "labelFontSize": 15, "labelPadding": 8}},
      "color": {"field": "sample", "type": "nominal", "scale": {"domain": ["AgNPs 4-6 nm", "AgNPs 6-8 nm", "AgNPs 12-14 nm"], "range": ["#2222ff", "#ff2222", "#22cc22"]}, "legend": null}
     }},
    {"data": {"values": [{"wavelength":33.5,"wavelength2":33.5,"absorbance":-0.33,"absorbance2":1.12},{"wavelength":818.7,"wavelength2":818.7,"absorbance":-0.33,"absorbance2":1.12}]},
     "mark": {"type": "rule", "color": "#444", "strokeWidth": 1},
     "encoding": {"x": {"field": "wavelength", "type": "quantitative"}, "x2": {"field": "wavelength2"}, "y": {"field": "absorbance", "type": "quantitative"}, "y2": {"field": "absorbance2"}}},
    {"data": {"values": [{"wavelength":521.9,"wavelength2":776,"absorbance":0.916,"absorbance2":0.68}]},
     "mark": {"type": "rect", "fill": "white", "stroke": "#555", "strokeWidth": 1.2},
     "encoding": {"x": {"field": "wavelength", "type": "quantitative"}, "x2": {"field": "wavelength2"}, "y": {"field": "absorbance", "type": "quantitative"}, "y2": {"field": "absorbance2"}}},
    {"data": {"values": [{"wavelength":525.6,"wavelength2":580,"absorbance":0.873,"sample":"AgNPs 4-6 nm"},{"wavelength":525.6,"wavelength2":580,"absorbance":0.8,"sample":"AgNPs 6-8 nm"},{"wavelength":525.6,"wavelength2":580,"absorbance":0.727,"sample":"AgNPs 12-14 nm"}]},
     "mark": {"type": "rule", "strokeWidth": 1.6},
     "encoding": {"x": {"field": "wavelength", "type": "quantitative"}, "x2": {"field": "wavelength2"}, "y": {"field": "absorbance", "type": "quantitative"}, "color": {"field": "sample", "type": "nominal", "legend": null}}},
    {"data": {"values": [{"label":"AgNPs 4-6 nm","wavelength":592.9,"absorbance":0.873},{"label":"AgNPs 6-8 nm","wavelength":586.6,"absorbance":0.8},{"label":"AgNPs 12-14 nm","wavelength":586.6,"absorbance":0.727}]},
     "mark": {"type": "text", "align": "left", "font": "DejaVu Sans", "fontSize": 16},
     "encoding": {"x": {"field": "wavelength", "type": "quantitative"}, "y": {"field": "absorbance", "type": "quantitative"}, "text": {"field": "label"},
      "color": {"condition": [{"test": "datum.label === 'AgNPs 4-6 nm'", "value": "#3333ff"}, {"test": "datum.label === 'AgNPs 6-8 nm'", "value": "#33e033"}], "value": "#ff3333"}}},
    {"data": {"values": [{"wavelength":402.2,"wavelength2":411.5,"absorbance":0.193,"absorbance2":0.343},{"wavelength":410,"wavelength2":428.8,"absorbance":0.143,"absorbance2":0.236},{"wavelength":416.2,"wavelength2":444.3,"absorbance":0.143,"absorbance2":0.179}]},
     "mark": {"type": "rule", "color": "#222", "strokeWidth": 1},
     "encoding": {"x": {"field": "wavelength", "type": "quantitative"}, "x2": {"field": "wavelength2"}, "y": {"field": "absorbance", "type": "quantitative"}, "y2": {"field": "absorbance2"}}},
    {"data": {"values": [{"wavelength":411.5,"absorbance":0.343}]},
     "mark": {"type": "point", "shape": "triangle-up", "filled": true, "color": "#111", "size": 30, "angle": 16, "opacity": 1},
     "encoding": {"x": {"field": "wavelength", "type": "quantitative"}, "y": {"field": "absorbance", "type": "quantitative"}}},
    {"data": {"values": [{"wavelength":428.8,"absorbance":0.236}]},
     "mark": {"type": "point", "shape": "triangle-up", "filled": true, "color": "#111", "size": 30, "angle": 43, "opacity": 1},
     "encoding": {"x": {"field": "wavelength", "type": "quantitative"}, "y": {"field": "absorbance", "type": "quantitative"}}},
    {"data": {"values": [{"wavelength":444.3,"absorbance":0.179}]},
     "mark": {"type": "point", "shape": "triangle-up", "filled": true, "color": "#111", "size": 30, "angle": 74, "opacity": 1},
     "encoding": {"x": {"field": "wavelength", "type": "quantitative"}, "y": {"field": "absorbance", "type": "quantitative"}}},
    {"data": {"values": [{"label":"401 nm","wavelength":415.6,"absorbance":0.402},{"label":"409 nm","wavelength":466.6,"absorbance":0.282},{"label":"418 nm","wavelength":488.1,"absorbance":0.179}]},
     "mark": {"type": "text", "font": "DejaVu Sans", "fontWeight": "bold", "fontSize": 20},
     "encoding": {"x": {"field": "wavelength", "type": "quantitative"}, "y": {"field": "absorbance", "type": "quantitative"}, "text": {"field": "label"},
      "color": {"condition": [{"test": "datum.label === '401 nm'", "value": "#2a2aff"}, {"test": "datum.label === '409 nm'", "value": "#33dd33"}], "value": "#ff2a2a"}}},
    {"data": {"values": [{"label":"UV–Vis absorption spectra of AgNPs","wavelength":239.7,"absorbance":1.002}]},
     "mark": {"type": "text", "align": "left", "font": "DejaVu Sans", "fontWeight": "bold", "fontSize": 20, "color": "#111"},
     "encoding": {"x": {"field": "wavelength", "type": "quantitative"}, "y": {"field": "absorbance", "type": "quantitative"}, "text": {"field": "label"}}},
    {"data": {"values": [{"label":"Absorbance (a.u)","wavelength":83.2,"absorbance":0.393}]},
     "mark": {"type": "text", "angle": 270, "font": "Liberation Sans Narrow, DejaVu Sans Condensed, sans-serif", "fontSize": 19, "color": "#111"},
     "encoding": {"x": {"field": "wavelength", "type": "quantitative"}, "y": {"field": "absorbance", "type": "quantitative"}, "text": {"field": "label"}}},
    {"data": {"values": [{"label":"Wavelength (nm)","wavelength":451.1,"absorbance":-0.25}]},
     "mark": {"type": "text", "font": "DejaVu Sans", "fontWeight": "bold", "fontSize": 22, "color": "#111"},
     "encoding": {"x": {"field": "wavelength", "type": "quantitative"}, "y": {"field": "absorbance", "type": "quantitative"}, "text": {"field": "label"}}},
    {"data": {"values": [{"label":"d","wavelength":793.4,"absorbance":1.007}]},
     "mark": {"type": "text", "font": "Liberation Sans", "fontWeight": "bold", "fontSize": 28, "color": "#000"},
     "encoding": {"x": {"field": "wavelength", "type": "quantitative"}, "y": {"field": "absorbance", "type": "quantitative"}, "text": {"field": "label"}}}
   ]}
 ], "spacing": 0, "bounds": "flush"}
], "spacing": 0}
],
"spacing": 3.5
}
